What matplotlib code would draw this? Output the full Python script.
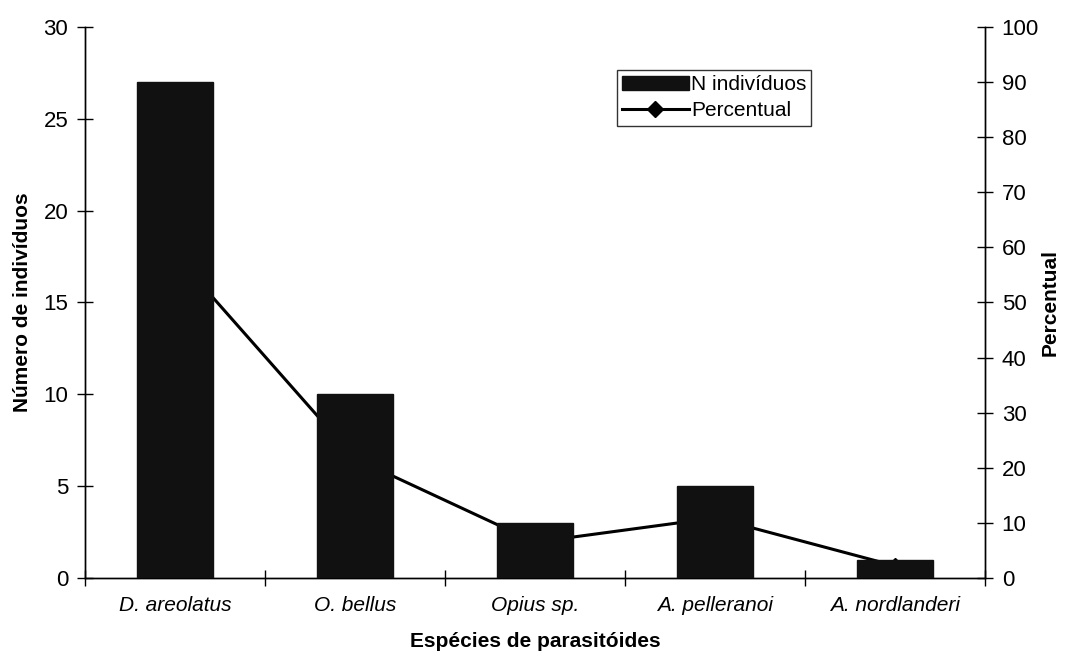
import matplotlib.pyplot as plt
from matplotlib.lines import Line2D
from matplotlib.patches import Patch

plt.rcParams['font.family'] = ['Liberation Sans', 'DejaVu Sans']

especies = ["D. areolatus", "O. bellus", "Opius sp.", "A. pelleranoi", "A. nordlanderi"]
n_individuos = [27, 10, 3, 5, 1]
percentual = [58.7, 21.7, 6.5, 10.9, 2.2]

fig = plt.figure(figsize=(10.66, 6.58), dpi=100)
ax = fig.add_axes([0.0797, 0.1216, 0.8443, 0.8374])
ax2 = ax.twinx()

x = list(range(len(especies)))

# line on the right axis, drawn behind the bars
ax2.plot(x, percentual, color="black", lw=2.2, marker="D", ms=8)
ax.bar(x, n_individuos, width=0.42, color="#111111", edgecolor="#111111", zorder=3)

ax.set_zorder(ax2.get_zorder() + 1)
ax.patch.set_visible(False)

fs = 15
fy = 16
ax.set_xlim(-0.5, 4.5)
ax.set_ylim(0, 30)
ax2.set_ylim(0, 100)
ax.set_yticks(range(0, 31, 5))
ax2.set_yticks(range(0, 101, 10))

ax.set_xticks(x)
ax.set_xticklabels(especies, fontstyle="italic", fontsize=fs)
ax.tick_params(axis="x", length=0, pad=13)
ax.set_xticks([i + 0.5 for i in range(-1, 5)], minor=True)
ax.tick_params(axis="x", which="minor", direction="inout", length=12, width=1)
ax.tick_params(axis="y", direction="inout", length=12, labelsize=fy, width=1, pad=6)
ax2.tick_params(axis="y", direction="inout", length=12, labelsize=fy, width=1, pad=6)

for a in (ax, ax2):
    a.spines["top"].set_visible(False)
    for s in ("left", "right", "bottom"):
        a.spines[s].set_linewidth(1)

ax.set_xlabel("Espécies de parasitóides", fontweight="bold", fontsize=fs, labelpad=12)
ax.set_ylabel("Número de indivíduos", fontweight="bold", fontsize=fs, labelpad=8)
ax2.set_ylabel("Percentual", fontweight="bold", fontsize=fs, labelpad=1)

handles = [Patch(facecolor="#111111", edgecolor="#111111"),
           Line2D([0], [0], color="black", lw=2.2, marker="D", ms=8)]
leg = ax.legend(handles, ["N indivíduos", "Percentual"], loc="upper left",
                bbox_to_anchor=(0.591, 0.922), fontsize=fs, frameon=True, fancybox=False,
                edgecolor="black", handlelength=3.2, borderpad=0.25, labelspacing=0.35,
                handletextpad=0.1, borderaxespad=0)
leg.get_frame().set_linewidth(1)

fig.savefig("out.png", dpi=100)
